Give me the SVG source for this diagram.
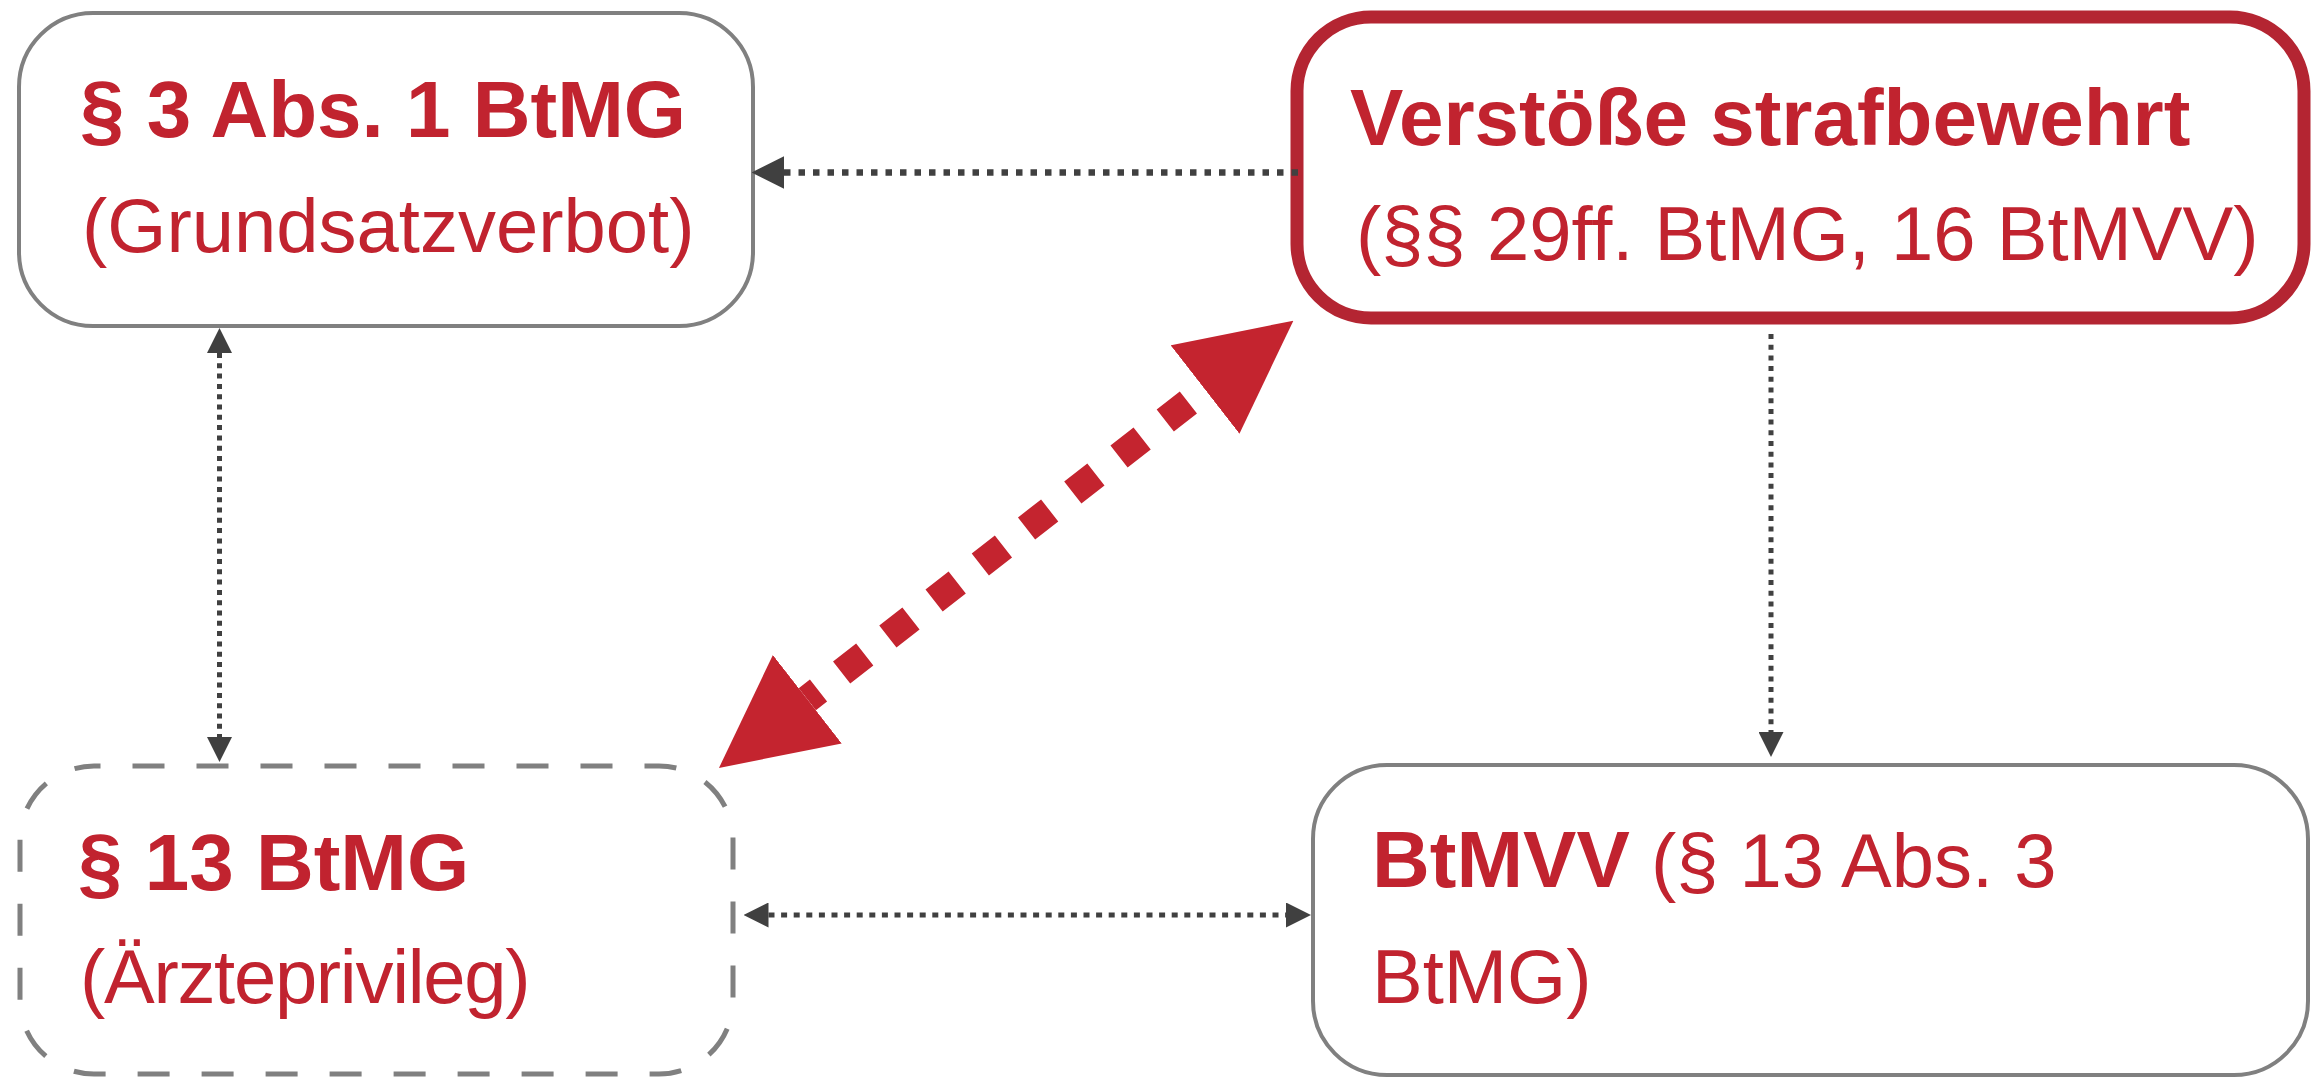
<svg xmlns="http://www.w3.org/2000/svg" width="2320" height="1078" viewBox="0 0 2320 1078">
  <style>
    .box { fill: #ffffff; stroke: #808080; stroke-width: 4; }
    .boxDashed { fill: #ffffff; stroke: #808080; stroke-width: 5; stroke-dasharray: 32 32; stroke-dashoffset: 25.5; }
    .boxRed { fill: #ffffff; stroke: #b42532; stroke-width: 13; }
    .b { font-family: "Liberation Sans", Arial, Helvetica, sans-serif; font-weight: bold; font-size: 80px; fill: #c1232f; }
    .r { font-family: "Liberation Sans", Arial, Helvetica, sans-serif; font-weight: normal; font-size: 76px; fill: #c1232f; }
    .conn { fill: none; stroke: #404040; }
  </style>
  <defs>
    <marker id="ah" viewBox="0 0 5 5" refX="0" refY="2.5" markerWidth="5" markerHeight="5" markerUnits="strokeWidth" orient="auto-start-reverse">
      <path d="M0,0 L5,2.5 L0,5 z" fill="#404040"/>
    </marker>
    <marker id="ahRed" viewBox="0 0 4 4" refX="0" refY="2" markerWidth="4" markerHeight="4" markerUnits="strokeWidth" orient="auto-start-reverse">
      <path d="M0,0 L4,2 L0,4 z" fill="#c4242f"/>
    </marker>
  </defs>

  <g id="node-grundsatzverbot">
    <rect class="box" x="19" y="13" width="734" height="313" rx="74" ry="74"/>
    <text class="b" x="80" y="137">§ 3 Abs. 1 BtMG</text>
    <text class="r" x="82" y="252">(Grundsatzverbot)</text>
  </g>

  <g id="node-strafbewehrt">
    <rect class="boxRed" x="1297" y="17" width="1007" height="301" rx="74" ry="74"/>
    <text class="b" x="1350" y="145">Verstöße strafbewehrt</text>
    <text class="r" x="1356" y="260">(§§ 29ff. BtMG, 16 BtMVV)</text>
  </g>

  <g id="node-aerzteprivileg">
    <rect class="boxDashed" x="20" y="766" width="713" height="308" rx="74" ry="74"/>
    <text class="b" x="78" y="890">§ 13 BtMG</text>
    <text class="r" x="80" y="1003" letter-spacing="-1.3">(Ärzteprivileg)</text>
  </g>

  <g id="node-btmvv">
    <rect class="box" x="1313" y="765" width="995" height="310" rx="74" ry="74"/>
    <text x="1372" y="887"><tspan class="b">BtMVV</tspan><tspan class="r"> (§ 13 Abs. 3</tspan></text>
    <text class="r" x="1372" y="1003">BtMG)</text>
  </g>

  <g id="connectors">
    <line class="conn" x1="1298" y1="172.5" x2="784" y2="172.5" stroke-width="6.5" stroke-dasharray="6.5 8" marker-end="url(#ah)"/>
    <line class="conn" x1="219.5" y1="353" x2="219.5" y2="737" stroke-width="5" stroke-dasharray="5 5.3" marker-start="url(#ah)" marker-end="url(#ah)"/>
    <line class="conn" x1="1771" y1="334" x2="1771" y2="732" stroke-width="5" stroke-dasharray="5 5.7" marker-end="url(#ah)"/>
    <line class="conn" x1="768.5" y1="915" x2="1286" y2="915" stroke-width="5" stroke-dasharray="6 6.6" marker-start="url(#ah)" marker-end="url(#ah)"/>
    <line x1="807.3" y1="699.2" x2="1205" y2="389.5" fill="none" stroke="#c4242f" stroke-width="28" stroke-dasharray="29.3 29.3" stroke-dashoffset="15.1" marker-start="url(#ahRed)" marker-end="url(#ahRed)"/>
  </g>
</svg>
